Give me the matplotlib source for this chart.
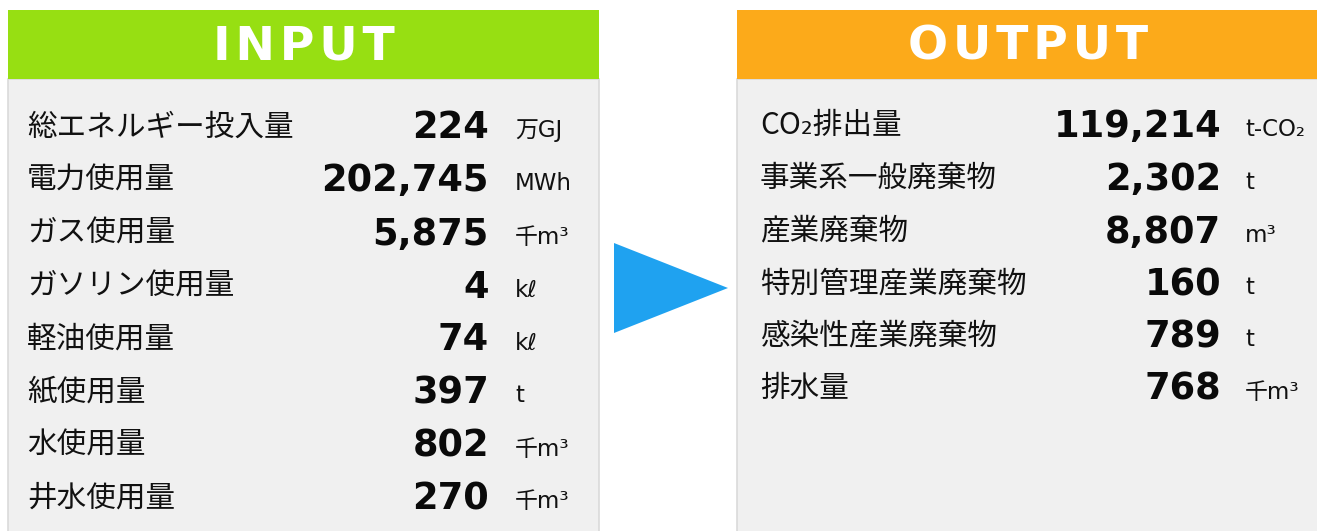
import matplotlib
matplotlib.use("Agg")
import matplotlib.pyplot as plt
from matplotlib.patches import Rectangle, Polygon

# ---- data ----
input_labels = ["総エネルギー投入量", "電力使用量", "ガス使用量", "ガソリン使用量",
                "軽油使用量", "紙使用量", "水使用量", "井水使用量"]
input_values = [224, 202745, 5875, 4, 74, 397, 802, 270]
input_units = ["万GJ", "MWh", "千m³", "kℓ", "kℓ", "t", "千m³", "千m³"]

output_labels = ["CO₂排出量", "事業系一般廃棄物", "産業廃棄物", "特別管理産業廃棄物",
                 "感染性産業廃棄物", "排水量"]
output_values = [119214, 2302, 8807, 160, 789, 768]
output_units = ["t-CO₂", "t", "m³", "t", "t", "千m³"]

W, H = 1317, 531
fig = plt.figure(figsize=(W / 100, H / 100), dpi=100)
ax = fig.add_axes([0, 0, 1, 1])
ax.set_xlim(0, W)
ax.set_ylim(H, 0)
ax.axis("off")

JP = ["Noto Sans CJK JP", "DejaVu Sans"]
LAT = ["DejaVu Sans", "Noto Sans CJK JP"]

GREEN = "#97DF12"
ORANGE = "#FCAA1A"
GRAY = "#F0F0F0"
BORDER = "#DADADA"
BLUE = "#1FA2F0"


def panel(x0, x1, color, title, labels, values, units,
          label_x, num_x, unit_x, y0, dy):
    # gray body (extends past the bottom edge)
    ax.add_patch(Rectangle((x0, 79), x1 - x0, H - 79 + 10, facecolor=GRAY,
                           edgecolor=BORDER, linewidth=1.2, zorder=1,
                           clip_on=True))
    # header
    ax.add_patch(Rectangle((x0, 10), x1 - x0, 69, facecolor=color,
                           edgecolor="none", zorder=2))
    ax.text((x0 + x1) / 2, 47, "\u200a".join(title), color="white",
            fontsize=34, fontweight="bold", family=LAT,
            ha="center", va="center", zorder=3)
    for i, (lab, val, unit) in enumerate(zip(labels, values, units)):
        y = y0 + i * dy
        ax.text(label_x, y, lab, fontsize=21.3, family=JP, color="#111111",
                ha="left", va="center", zorder=3)
        ax.text(num_x, y + 1, f"{val:,}", fontsize=26.5, fontweight="bold",
                family=LAT, color="#0A0A0A", ha="right", va="center", zorder=3)
        ax.text(unit_x, y + 4, unit, fontsize=16.5, family=LAT,
                color="#111111", ha="left", va="center", zorder=3)


panel(8, 599, GREEN, "INPUT", input_labels, input_values, input_units,
      label_x=27, num_x=489, unit_x=515, y0=127, dy=53)
panel(737, W + 2, ORANGE, "OUTPUT", output_labels, output_values, output_units,
      label_x=760, num_x=1221, unit_x=1245, y0=126, dy=52.5)

# arrow
ax.add_patch(Polygon([(614, 243), (614, 333), (728, 288)], closed=True,
                     facecolor=BLUE, edgecolor="none", zorder=2))

fig.savefig("out.png", dpi=100, facecolor="white")
